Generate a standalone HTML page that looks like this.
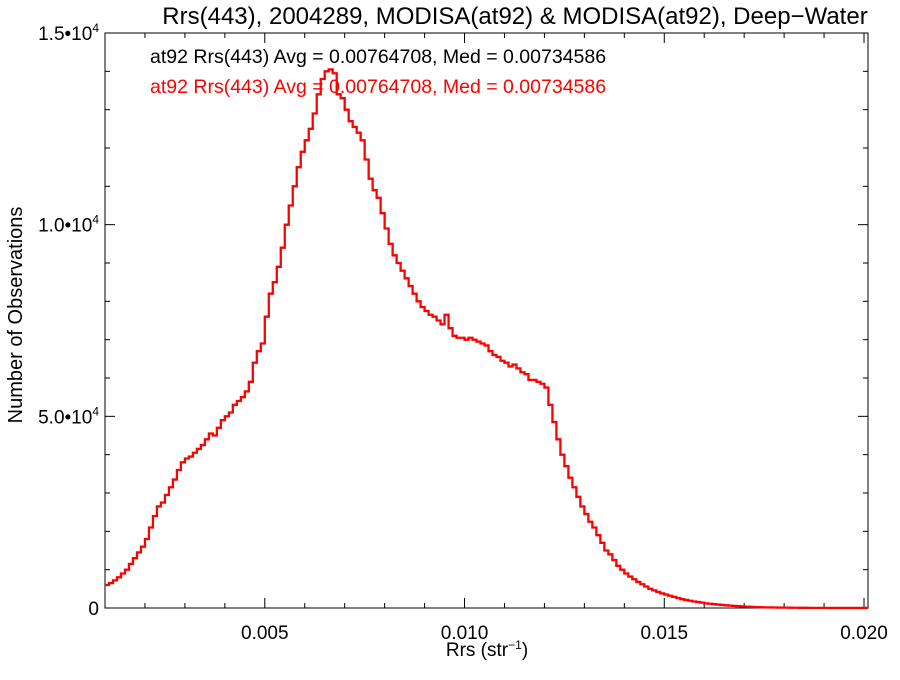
<!DOCTYPE html>
<html><head><meta charset="utf-8"><style>
body{margin:0;background:#fff}
svg text{font-family:"Liberation Sans",Helvetica,Arial,sans-serif}
</style></head><body>
<svg id="chart" width="900" height="675" viewBox="0 0 900 675" xmlns="http://www.w3.org/2000/svg">
<rect width="900" height="675" fill="#fff"/>
<text x="515" y="24" font-size="24" text-anchor="middle">Rrs(443), 2004289, MODISA(at92) &amp; MODISA(at92), Deep−Water</text>
<text x="150" y="63" font-size="19.5" fill="#000">at92 Rrs(443) Avg = 0.00764708, Med = 0.00734586</text>
<text transform="translate(22,315) rotate(-90)" font-size="20" text-anchor="middle">Number of Observations</text>
<text x="487" y="656" font-size="19" text-anchor="middle">Rrs (str<tspan dy="-7" font-size="12">−1</tspan><tspan dy="7">)</tspan></text>
<g id="axes"></g>
<path id="hist" fill="none" stroke="#ff0000" stroke-width="2.3"/>
<text x="150" y="93" font-size="19.5" fill="#ff0000">at92 Rrs(443) Avg = 0.00764708, Med = 0.00734586</text>
</svg>
<script>
const binStart = 0.001;
const binWidth = 0.0001;
const counts = [
600,650,720,800,900,1000,1150,1300,1450,1600,
1800,2100,2400,2650,2750,2950,3150,3350,3600,3800,
3900,3950,4050,4150,4250,4400,4550,4500,4700,4900,
5000,5100,5300,5400,5500,5650,5900,6400,6700,6900,
7600,8200,8500,8900,9400,10000,10500,11000,11500,11900,
12200,12500,12900,13400,13800,14000,14050,13950,13400,13300,
13000,12700,12550,12400,12200,11700,11200,10900,10700,10300,
9900,9500,9200,9000,8800,8600,8400,8200,8000,7850,
7750,7650,7600,7500,7400,7650,7300,7100,7050,7050,
7000,7050,7000,6950,6900,6850,6700,6600,6550,6450,
6400,6300,6350,6250,6150,6100,5950,5950,5900,5850,
5750,5300,4850,4400,4000,3700,3400,3150,2900,2650,
2450,2250,2100,1900,1700,1500,1400,1250,1100,1000,
900,820,750,680,620,560,500,460,420,380,
350,320,290,260,230,210,190,170,155,140,
120,110,100,90,80,70,62,55,48,42,
36,31,27,23,20,17,15,13,11,10,
9,8,7,6,5,5,4,4,3,3,
3,2,2,2,2,1,1,1,1,1,1];
const xTickValues = [0.005, 0.010, 0.015, 0.020];
const xTickLabels = ["0.005", "0.010", "0.015", "0.020"];
const yTickValues = [0, 5000, 10000, 15000];
const yTickMant = ["0", "5.0•10", "1.0•10", "1.5•10"];

const L=105,R=868,T=33,B=608,XMIN=0.001,XMAX=0.0201,YMIN=0,YMAX=15000;
const sx=v=>L+(v-XMIN)/(XMAX-XMIN)*(R-L);
const sy=v=>B-(v-YMIN)/(YMAX-YMIN)*(B-T);
const NS="http://www.w3.org/2000/svg";
const axes=document.getElementById('axes');
function line(x1,y1,x2,y2,name){
  const l=document.createElementNS(NS,'line');
  l.setAttribute('x1',x1);l.setAttribute('y1',y1);l.setAttribute('x2',x2);l.setAttribute('y2',y2);
  l.setAttribute('stroke','#000');l.setAttribute('stroke-width','1');
  
  
  axes.appendChild(l);
}
const box=document.createElementNS(NS,'rect');
box.setAttribute('x',L);box.setAttribute('y',T);box.setAttribute('width',R-L);box.setAttribute('height',B-T);
box.setAttribute('fill','none');box.setAttribute('stroke','#000');


axes.appendChild(box);
for(let i=2;i<=20;i++){
  const v=i*0.001, x=sx(v), major=(i%5===0), len=major?10:5;
  line(x,B,x,B-len,'x-tick');
  line(x,T,x,T+len,'x-tick-top');
}
xTickValues.forEach((v,i)=>{
  const t=document.createElementNS(NS,'text');
  t.setAttribute('x',sx(v));t.setAttribute('y',B+31);t.setAttribute('font-size','19');t.setAttribute('text-anchor','middle');
  t.textContent=xTickLabels[i];
  
  
  axes.appendChild(t);
});
for(let v=0;v<=15000;v+=1000){
  const y=sy(v), major=(v%5000===0), len=major?10:5;
  line(L,y,L+len,y,'y-tick');
  line(R,y,R-len,y,'y-tick-right');
}
yTickValues.forEach((v,i)=>{
  const t=document.createElementNS(NS,'text');
  t.setAttribute('x',99);t.setAttribute('y',sy(v)+7);t.setAttribute('font-size','19');t.setAttribute('text-anchor','end');
  if(v===0){t.textContent='0';}
  else{
    t.textContent=yTickMant[i];
    const s=document.createElementNS(NS,'tspan');
    s.setAttribute('dy','-8');s.setAttribute('font-size','12');s.textContent='4';
    t.appendChild(s);
  }
  
  
  axes.appendChild(t);
});
let d='';
counts.forEach((c,i)=>{
  const x0=sx(binStart+i*binWidth), x1=Math.min(R,sx(binStart+(i+1)*binWidth)), y=sy(c);
  d+=(i===0?'M'+x0+','+y:'L'+x0+','+y)+'L'+x1+','+y;
});
document.getElementById('hist').setAttribute('d',d);
</script>
</body></html>
